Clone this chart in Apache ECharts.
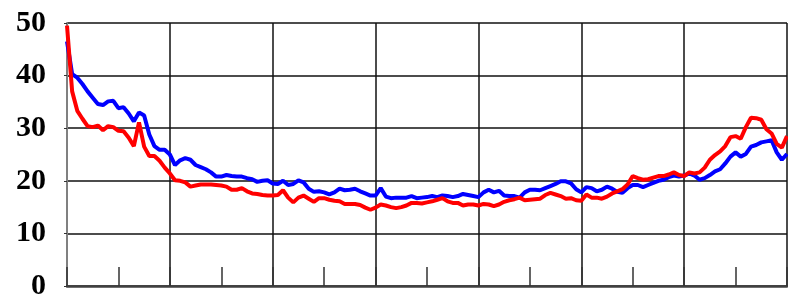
<!DOCTYPE html>
<html>
<head>
<meta charset="utf-8">
<script src="https://cdn.jsdelivr.net/npm/echarts@6/dist/echarts.min.js"></script>
<style>
  html, body { margin: 0; padding: 0; background: #fff; }
  #main { width: 788px; height: 301px; }
</style>
</head>
<body>
<div id="main"></div>
<script>
// y ticks
var yTicks = [0, 10, 20, 30, 40, 50];

// blue series (141 points)
var blueValues = [
  46.5, 40.3, 39.6, 38.4, 37.0, 35.8, 34.6, 34.4, 35.1, 35.2,
  33.8, 34.0, 32.8, 31.3, 33.0, 32.4, 28.8, 26.6, 25.9, 25.9,
  25.0, 23.0, 23.9, 24.3, 24.0, 23.0, 22.6, 22.2, 21.6, 20.8,
  20.8, 21.1, 20.9, 20.8, 20.8, 20.5, 20.3, 19.8, 20.0, 20.1,
  19.5, 19.4, 20.0, 19.2, 19.4, 20.1, 19.7, 18.5, 17.9, 18.0,
  17.8, 17.4, 17.8, 18.5, 18.2, 18.3, 18.5, 18.0, 17.6, 17.2,
  17.2, 18.6, 17.0, 16.7, 16.8, 16.8, 16.8, 17.1, 16.7, 16.8,
  16.9, 17.1, 16.9, 17.2, 17.1, 16.9, 17.1, 17.5, 17.3, 17.1,
  16.9, 17.8, 18.3, 17.8, 18.1, 17.2, 17.1, 17.1, 16.8, 17.8,
  18.3, 18.3, 18.2, 18.6, 19.0, 19.4, 19.9, 19.9, 19.5, 18.4,
  17.8, 18.8, 18.6, 18.0, 18.3, 18.9, 18.5, 17.9, 17.7, 18.6,
  19.2, 19.2, 18.8, 19.2, 19.6, 20.0, 20.2, 20.7, 21.0, 20.8,
  21.0, 21.4, 21.0, 20.2, 20.5, 21.1, 21.8, 22.2, 23.3, 24.6,
  25.4, 24.6, 25.1, 26.5, 26.8, 27.3, 27.5, 27.7, 25.4, 24.0,
  25.1
];

// red series
var redValues = [
  49.5, 37.0, 33.3, 31.8, 30.4, 30.2, 30.5, 29.6, 30.4, 30.2,
  29.5, 29.4, 28.2, 26.6, 31.1, 26.5, 24.7, 24.7, 23.8, 22.5,
  21.4, 20.1, 20.0, 19.7, 18.9, 19.1, 19.3, 19.3, 19.3, 19.2,
  19.1, 18.9, 18.3, 18.3, 18.6, 18.0, 17.6, 17.5, 17.3, 17.2,
  17.2, 17.3, 18.2, 16.8, 15.9, 16.8, 17.2, 16.6, 16.0, 16.7,
  16.7, 16.4, 16.2, 16.1, 15.6, 15.6, 15.6, 15.4, 14.9, 14.5,
  14.9, 15.5, 15.3, 15.0, 14.8, 15.0, 15.3, 15.8, 15.8, 15.7,
  15.9, 16.1, 16.4, 16.7, 16.1, 15.8, 15.8, 15.3, 15.5, 15.5,
  15.3, 15.6, 15.5, 15.2, 15.5, 16.0, 16.3, 16.5, 16.8, 16.3,
  16.4, 16.5, 16.6, 17.3, 17.7, 17.4, 17.1, 16.6, 16.7, 16.3,
  16.2, 17.4, 16.8, 16.8, 16.6, 17.0, 17.6, 18.0, 18.4, 19.3,
  20.9, 20.5, 20.2, 20.3, 20.6, 20.9, 20.9, 21.2, 21.6, 21.1,
  20.9, 21.6, 21.4, 21.6, 22.5, 24.0, 24.9, 25.6, 26.6, 28.3,
  28.5, 28.0, 30.2, 32.0, 31.9, 31.6, 29.8, 29.0, 27.0, 26.3,
  28.5
];

// x categories are just point numbers, no labels shown
var xCategories = [];
for (var i = 0; i < blueValues.length; i++) {
  xCategories.push(i);
}

var chart = echarts.init(document.getElementById('main'));

var option = {
  animation: false,
  backgroundColor: '#fff',
  grid: {
    left: 67,
    right: 1,
    top: 23,
    bottom: 9
  },
  xAxis: {
    type: 'category',
    data: xCategories,
    boundaryGap: false,
    axisLabel: { show: false },
    axisLine: {
      lineStyle: { color: '#404040', width: 2.5 }
    },
    //短刻度朝上
    axisTick: {
      show: true,
      inside: true,
      interval: 9,
      length: 19,
      lineStyle: { color: '#333', width: 1.5 }
    },
    //竖向网格
    splitLine: {
      show: true,
      interval: 19,
      lineStyle: { color: '#111', width: 1.5 }
    }
  },
  yAxis: {
    type: 'value',
    min: yTicks[0],
    max: yTicks[yTicks.length - 1],
    interval: 10,
    axisLine: {
      show: true,
      lineStyle: { color: '#808080', width: 2 }
    },
    axisTick: {
      show: true,
      length: 3,
      lineStyle: { color: '#333' }
    },
    axisLabel: {
      margin: 21,
      color: '#000',
      fontFamily: 'Liberation Serif',
      fontWeight: 'bold',
      fontSize: 30
    },
    splitLine: {
      lineStyle: { color: '#111', width: 1.5 }
    }
  },
  series: [{
    name: 'blue',
    type: 'line',
    data: blueValues,
    symbol: 'none',
    lineStyle: { color: '#0000ff', width: 4 }
  }, {
    name: 'red',
    type: 'line',
    data: redValues,
    symbol: 'none',
    lineStyle: { color: '#ff0000', width: 4 }
  }]
};

chart.setOption(option);
</script>
</body>
</html>
